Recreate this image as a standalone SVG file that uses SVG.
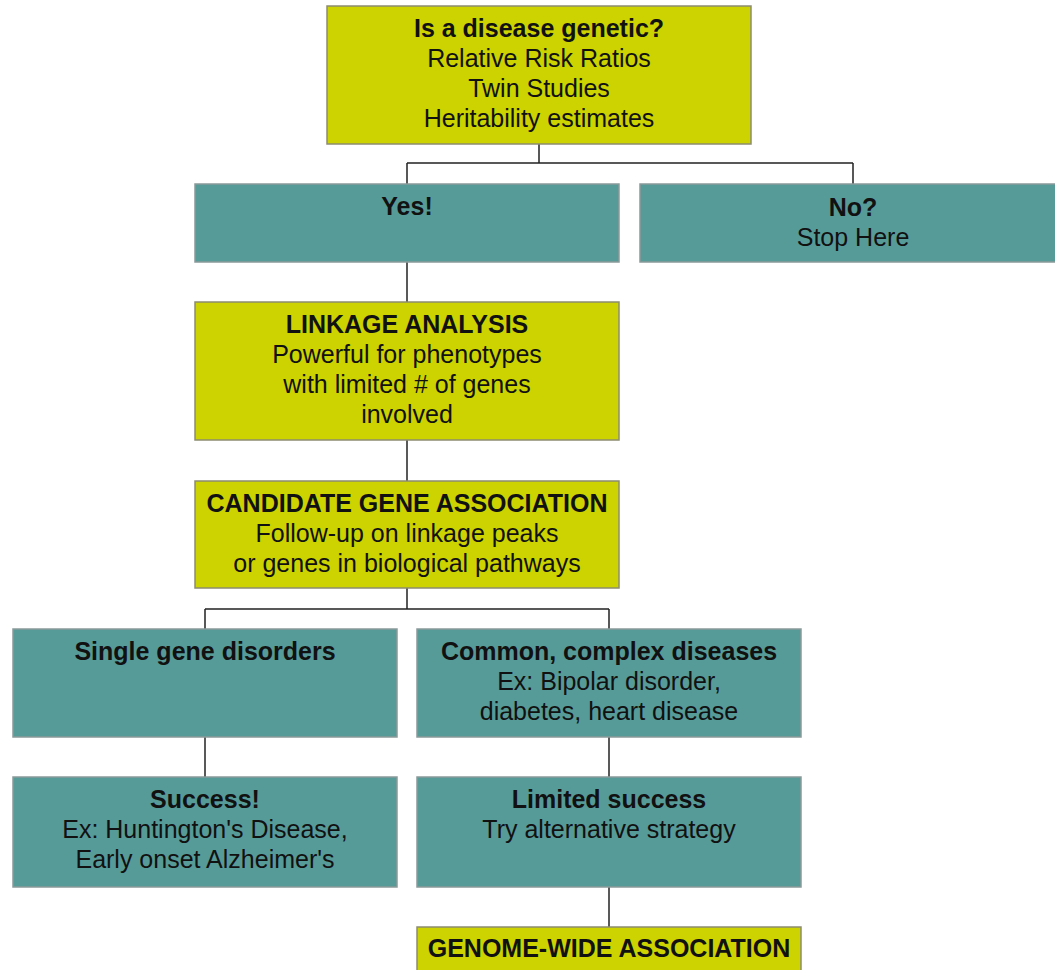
<svg xmlns="http://www.w3.org/2000/svg" width="1055" height="970" viewBox="0 0 1055 970">
<style>
.y{fill:#CCD300;stroke:#8C8C70;stroke-width:1.5}
.t{fill:#579B99;stroke:#8A9A9A;stroke-width:1.5}
text{font-family:"Liberation Sans",Arial,sans-serif;font-size:25px;fill:#111;text-anchor:middle}
.b{font-weight:bold}
.c{fill:none;stroke:#222;stroke-width:1.5}
</style>
<rect width="1055" height="970" fill="#fff"/>
<g id="connectors">
<path class="c" d="M539,144V163M407,163H853M407,163V184M853,163V184"/>
<path class="c" d="M407,262V302"/>
<path class="c" d="M407,440V481"/>
<path class="c" d="M407,588V609M205,609H609M205,609V629M609,609V629"/>
<path class="c" d="M205,737V777"/>
<path class="c" d="M609,737V777"/>
<path class="c" d="M609,887V927"/>
</g>
<g id="n-genetic">
<rect class="y" x="327" y="6" width="424" height="138"/>
<text x="539" y="37" class="b">Is a disease genetic?</text>
<text x="539" y="67">Relative Risk Ratios</text>
<text x="539" y="97">Twin Studies</text>
<text x="539" y="127">Heritability estimates</text>
</g>
<g id="n-yes">
<rect class="t" x="195" y="184" width="424" height="78"/>
<text x="407" y="215" class="b">Yes!</text>
</g>
<g id="n-no">
<rect class="t" x="640" y="184" width="426" height="78"/>
<text x="853" y="216" class="b">No?</text>
<text x="853" y="246">Stop Here</text>
</g>
<g id="n-linkage">
<rect class="y" x="195" y="302" width="424" height="138"/>
<text x="407" y="333" class="b">LINKAGE ANALYSIS</text>
<text x="407" y="363">Powerful for phenotypes</text>
<text x="407" y="393">with limited # of genes</text>
<text x="407" y="423">involved</text>
</g>
<g id="n-candidate">
<rect class="y" x="195" y="481" width="424" height="107"/>
<text x="407" y="512" class="b">CANDIDATE GENE ASSOCIATION</text>
<text x="407" y="542">Follow-up on linkage peaks</text>
<text x="407" y="572">or genes in biological pathways</text>
</g>
<g id="n-single">
<rect class="t" x="13" y="629" width="384" height="108"/>
<text x="205" y="660" class="b">Single gene disorders</text>
</g>
<g id="n-common">
<rect class="t" x="417" y="629" width="384" height="108"/>
<text x="609" y="660" class="b">Common, complex diseases</text>
<text x="609" y="690">Ex: Bipolar disorder,</text>
<text x="609" y="720">diabetes, heart disease</text>
</g>
<g id="n-success">
<rect class="t" x="13" y="777" width="384" height="110"/>
<text x="205" y="808" class="b">Success!</text>
<text x="205" y="838">Ex: Huntington's Disease,</text>
<text x="205" y="868">Early onset Alzheimer's</text>
</g>
<g id="n-limited">
<rect class="t" x="417" y="777" width="384" height="110"/>
<text x="609" y="808" class="b">Limited success</text>
<text x="609" y="838">Try alternative strategy</text>
</g>
<g id="n-gwa">
<rect class="y" x="417" y="927" width="384" height="60"/>
<text x="609" y="957" class="b">GENOME-WIDE ASSOCIATION</text>
</g>
</svg>
